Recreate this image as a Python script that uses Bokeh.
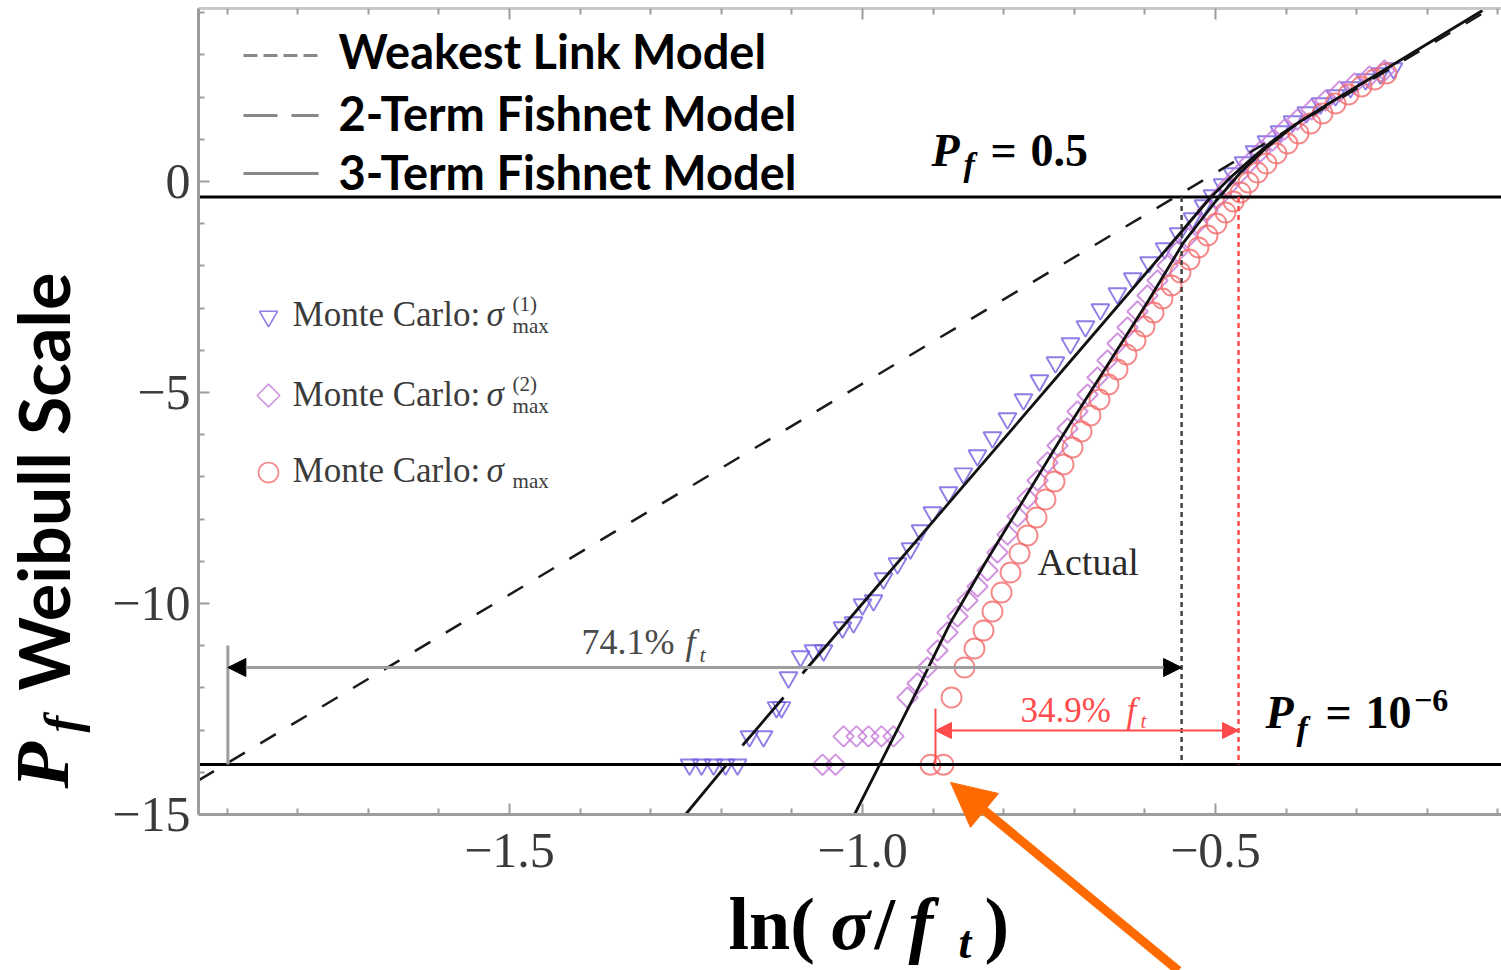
from math import pi, log

from bokeh.plotting import figure
from bokeh.models import (Range1d, LinearAxis, FixedTicker, CustomJSTickFormatter,
                          Label, Arrow, NormalHead)
from bokeh.embed import file_html
from bokeh.resources import INLINE

NAN = float("nan")

# ---- axes -----------------------------------------------------------------
# plotting box of the chart (data units)
x_start, x_end = -1.9405, -0.0949
y_start, y_end = -15.0, 4.0995
# the canvas extends beyond the box to leave room for tick labels and titles
canvas_x = (-2.2210, -0.0949)
canvas_y = (-18.6967, 4.2891)
PX_PER_X = 706.0    # screen pixels per unit of ln(sigma/f_t)
PX_PER_Y = 42.2     # screen pixels per unit of the Weibull scale

x_major = [-1.5, -1.0, -0.5]
x_minor = [-1.9, -1.8, -1.7, -1.6, -1.4, -1.3, -1.2, -1.1, -0.9, -0.8,
           -0.7, -0.6, -0.4, -0.3, -0.2, -0.1]
y_major = [0, -5, -10, -15]
y_minor = [4, 3, 2, 1, -1, -2, -3, -4, -6, -7, -8, -9, -11, -12, -13, -14]

# failure-probability levels on the Weibull scale, ln(-ln(1-Pf))
pf_half = -0.3665     # Pf = 0.5
pf_micro = -13.8155   # Pf = 1e-6

# ---- model curves (x = ln(sigma/f_t), y = Weibull scale) -------------------
wl_x = [-1.9405, -0.12]
wl_y = [-14.19, 4.0]

fn2_x = [-1.2507, -1.1912, NAN, -1.1700, -1.1119, NAN, -1.0850, -0.6912, -0.5637,
         -0.5071, -0.4788, -0.4504, -0.4221, -0.3867, -0.3371, -0.1218]
fn2_y = [-15.0, -13.792, NAN, -13.365, -12.228, NAN, -11.659, -3.981, -1.493,
         -0.379, 0.095, 0.521, 0.924, 1.351, 1.872, 4.052]

fn3_x = [-1.0113, -0.9249, -0.8753, -0.8258, -0.7181, -0.5949, -0.5453, -0.5000,
         -0.4646, -0.4292, -0.3867]
fn3_y = [-15.0, -12.133, -10.450, -9.029, -6.066, -2.820, -1.446, -0.474,
         0.213, 0.782, 1.351]

# ---- Monte Carlo samples ----------------------------------------------------
mc1_x = [-1.2450, -1.2280, -1.2110, -1.1940, -1.1770, -1.1601, -1.1402, -1.1218,
         -1.1147, -1.1048, -1.0878, -1.0694, -1.0552, -1.0283, -1.0127, -1.0000,
         -0.9844, -0.9703, -0.9504, -0.9321, -0.9179, -0.9009, -0.8783, -0.8570,
         -0.8372, -0.8159, -0.7947, -0.7720, -0.7494, -0.7267, -0.7055, -0.6842,
         -0.6630, -0.6389, -0.6172, -0.5941, -0.5721, -0.5524, -0.5326, -0.5170,
         -0.5042, -0.4901, -0.4759, -0.4603, -0.4448, -0.4278, -0.4094, -0.3909,
         -0.3711, -0.3513, -0.3300, -0.3088, -0.2875, -0.2663, -0.2479]
mc1_y = [-13.82, -13.82, -13.82, -13.82, -13.82, -13.15, -13.15, -12.46,
         -12.46, -11.754, -11.256, -11.114, -11.114, -10.569, -10.450, -10.024,
         -9.929, -9.408, -9.052, -8.697, -8.270, -7.844, -7.370, -6.920,
         -6.493, -6.066, -5.616, -5.166, -4.716, -4.289, -3.839, -3.436,
         -3.033, -2.654, -2.299, -1.919, -1.588, -1.232, -0.877, -0.569,
         -0.332, -0.071, 0.190, 0.450, 0.711, 0.948, 1.185, 1.422,
         1.635, 1.848, 2.038, 2.228, 2.417, 2.559, 2.678]

mc2_x = [-1.0567, -1.0382, -1.0269, -1.0085, -0.9915, -0.9731, -0.9561, -0.9363,
         -0.9221, -0.9079, -0.8938, -0.8796, -0.8654, -0.8513, -0.8371, -0.8229,
         -0.8088, -0.7946, -0.7804, -0.7663, -0.7521, -0.7380, -0.7238, -0.7096,
         -0.6955, -0.6813, -0.6671, -0.6530, -0.6388, -0.6246, -0.6105, -0.5963,
         -0.5822, -0.5680, -0.5538, -0.5397, -0.5255, -0.5113, -0.4972, -0.4830,
         -0.4674, -0.4518, -0.4363, -0.4193, -0.4023, -0.3839, -0.3640, -0.3442,
         -0.3244, -0.3031, -0.2819, -0.2606]
mc2_y = [-13.82, -13.82, -13.15, -13.15, -13.15, -13.15, -13.15, -12.228,
         -11.896, -11.517, -11.114, -10.687, -10.308, -9.929, -9.597, -9.218,
         -8.792, -8.365, -7.938, -7.512, -7.085, -6.659, -6.256, -5.853,
         -5.450, -5.047, -4.645, -4.242, -3.839, -3.460, -3.081, -2.701,
         -2.346, -1.991, -1.659, -1.327, -0.995, -0.687, -0.403, -0.118,
         0.166, 0.450, 0.711, 0.972, 1.232, 1.469, 1.706, 1.919,
         2.133, 2.322, 2.488, 2.630]

mcmax_x = [-0.9037, -0.8853, -0.8739, -0.8555, -0.8414, -0.8286, -0.8159, -0.8031,
           -0.7904, -0.7776, -0.7663, -0.7535, -0.7408, -0.7280, -0.7153, -0.7025,
           -0.6898, -0.6771, -0.6643, -0.6516, -0.6388, -0.6261, -0.6133, -0.6006,
           -0.5878, -0.5751, -0.5623, -0.5496, -0.5368, -0.5241, -0.5113, -0.4986,
           -0.4858, -0.4745, -0.4646, -0.4533, -0.4405, -0.4278, -0.4136, -0.3980,
           -0.3824, -0.3654, -0.3484, -0.3300, -0.3116, -0.2932, -0.2748, -0.2578]
mcmax_y = [-13.82, -13.82, -12.228, -11.517, -11.067, -10.640, -10.190, -9.739,
           -9.266, -8.815, -8.389, -7.962, -7.536, -7.109, -6.706, -6.303,
           -5.924, -5.545, -5.166, -4.810, -4.455, -4.100, -3.768, -3.436,
           -3.104, -2.773, -2.464, -2.156, -1.848, -1.564, -1.280, -0.995,
           -0.735, -0.474, -0.261, -0.024, 0.213, 0.427, 0.664, 0.900,
           1.137, 1.374, 1.611, 1.848, 2.062, 2.251, 2.417, 2.559]

# strength at Pf = 0.5 (weakest link, Monte Carlo sigma_max) and the
# strength reductions down to Pf = 1e-6, in percent of f_t
wl_half_x = -0.548
mc_half_x = -0.4674
drop_wl_pct = 74.1
drop_mc_pct = 34.9
wl_micro_x = wl_half_x + log(1 - drop_wl_pct / 100)
mc_micro_x = mc_half_x + log(1 - drop_mc_pct / 100)

# ---- colours ----------------------------------------------------------------
C_MC1 = "#6f5ee0"
C_MC2 = "#c479d8"
C_MCMAX = "#f26c6c"
C_AXIS = "#9d9d9d"
C_RED = "#ff4b4b"
C_ORANGE = "#ff6a00"
SERIF = "Liberation Serif"

p = figure(width=1501, height=970,
           x_range=Range1d(*canvas_x), y_range=Range1d(*canvas_y),
           x_axis_location=None, y_axis_location=None,
           output_backend="svg", toolbar_location=None, min_border=0,
           background_fill_color="white", border_fill_color="white")
p.outline_line_color = None
p.grid.visible = False


def style_axis(ax):
    ax.axis_line_color = C_AXIS
    ax.axis_line_width = 3
    ax.major_tick_line_color = C_AXIS
    ax.major_tick_line_width = 2
    ax.minor_tick_line_color = C_AXIS
    ax.minor_tick_line_width = 2
    ax.major_tick_in = 11
    ax.major_tick_out = 0
    ax.minor_tick_in = 6
    ax.minor_tick_out = 0
    ax.major_label_text_font = SERIF
    ax.major_label_text_font_size = "50px"
    ax.major_label_text_color = "#3a3a3a"


xax = LinearAxis(ticker=FixedTicker(ticks=x_major, minor_ticks=x_minor),
                 formatter=CustomJSTickFormatter(
                     code="return tick.toFixed(1).replace('-', '\u2212');"),
                 fixed_location=y_start, bounds=(x_start, x_end))
style_axis(xax)
xax.major_label_standoff = 20
p.add_layout(xax, "below")

yax = LinearAxis(ticker=FixedTicker(ticks=y_major, minor_ticks=y_minor),
                 formatter=CustomJSTickFormatter(
                     code="return tick.toFixed(0).replace('-', '\u2212');"),
                 fixed_location=x_start, bounds=(y_start, y_end))
style_axis(yax)
yax.major_label_standoff = 8
p.add_layout(yax, "left")

tax = LinearAxis(ticker=FixedTicker(ticks=x_major, minor_ticks=x_minor),
                 formatter=CustomJSTickFormatter(code="return '';"),
                 fixed_location=y_end, bounds=(x_start, x_end))
style_axis(tax)
tax.axis_line_color = "#c8c8c8"
tax.major_label_text_font_size = "0px"
p.add_layout(tax, "above")

# ---- Monte Carlo markers ----------------------------------------------------
p.scatter(mc1_x, mc1_y, marker="inverted_triangle", size=18, fill_color=None,
          line_color=C_MC1, line_alpha=0.8, line_width=1.9)
p.scatter(mc2_x, mc2_y, marker="square", angle=pi / 4, size=14.5, fill_color=None,
          line_color=C_MC2, line_alpha=0.8, line_width=1.9)
p.scatter(mcmax_x, mcmax_y, marker="circle", size=20, fill_color=None,
          line_color=C_MCMAX, line_alpha=0.8, line_width=1.9)

# ---- reference levels -------------------------------------------------------
p.line([x_start, x_end], [pf_half, pf_half], line_color="black", line_width=3)
p.line([x_start, x_end], [pf_micro, pf_micro], line_color="black", line_width=3)

p.line([wl_half_x, wl_half_x], [pf_half, pf_micro], line_color="#444444",
       line_width=2.5, line_dash="5 4")
p.line([mc_half_x, mc_half_x], [pf_half, pf_micro], line_color=C_RED,
       line_width=2.5, line_dash="5 4")

# ---- model curves -----------------------------------------------------------
p.line(wl_x, wl_y, line_color="#1a1a1a", line_width=2.5, line_dash="18 18")
p.line(fn2_x, fn2_y, line_color="#111111", line_width=2.8)
p.line(fn3_x, fn3_y, line_color="#111111", line_width=2.8)

# ---- strength-reduction arrows ---------------------------------------------
y_arrow_wl = -11.517
y_arrow_mc = -13.01
p.line([wl_micro_x, wl_micro_x], [-10.995, pf_micro], line_color=C_AXIS, line_width=3)
p.add_layout(Arrow(start=NormalHead(size=18, fill_color="black", line_color="black"),
                   end=NormalHead(size=18, fill_color="black", line_color="black"),
                   x_start=wl_micro_x, y_start=y_arrow_wl,
                   x_end=wl_half_x, y_end=y_arrow_wl,
                   line_color=C_AXIS, line_width=3))
p.line([mc_micro_x, mc_micro_x], [-12.49, pf_micro], line_color=C_RED, line_width=2)
p.add_layout(Arrow(start=NormalHead(size=16, fill_color=C_RED, line_color=C_RED),
                   end=NormalHead(size=16, fill_color=C_RED, line_color=C_RED),
                   x_start=mc_micro_x, y_start=y_arrow_mc,
                   x_end=mc_half_x, y_end=y_arrow_mc,
                   line_color=C_RED, line_width=2))

# orange pointer at the lowest sigma_max sample
p.add_layout(Arrow(end=NormalHead(size=44, fill_color=C_ORANGE, line_color=C_ORANGE),
                   x_start=-0.5524, y_start=-18.70, x_end=-0.8753, y_end=-14.24,
                   line_color=C_ORANGE, line_width=9))

# ---- legend (models) --------------------------------------------------------
leg_x = [-1.8768, -1.7705]
p.line(leg_x, [2.986, 2.986], line_color="#888888", line_width=3, line_dash="14 6")
p.line(leg_x, [1.564, 1.564], line_color="#888888", line_width=3, line_dash="34 14")
p.line(leg_x, [0.190, 0.190], line_color="#888888", line_width=3)

# ---- legend (Monte Carlo) ---------------------------------------------------
p.scatter([-1.8414], [-3.199], marker="inverted_triangle", size=18, fill_color=None,
          line_color=C_MC1, line_alpha=0.8, line_width=1.6)
p.scatter([-1.8414], [-5.071], marker="square", angle=pi / 4, size=16, fill_color=None,
          line_color=C_MC2, line_alpha=0.8, line_width=1.6)
p.scatter([-1.8414], [-6.896], marker="circle", size=20, fill_color=None,
          line_color=C_MCMAX, line_alpha=0.8, line_width=1.6)


def add_text(x, y, text, size, font=SERIF, style="normal", color="black", angle=0):
    # lift the text box so that (x, y) sits on the alphabetic baseline
    lift = 4 + 0.25 * size
    if angle:
        x -= lift / PX_PER_X
    else:
        y += lift / PX_PER_Y
    p.add_layout(Label(x=x, y=y, text=text, text_font=font,
                       text_font_size=f"{size}px", text_font_style=style,
                       text_color=color, angle=angle,
                       text_align="left", text_baseline="alphabetic"))


for yb, txt in [(2.725, "Weakest Link Model"), (1.256, "2-Term Fishnet Model"),
                (-0.142, "3-Term Fishnet Model")]:
    add_text(-1.7422, yb, txt, 47, font="Lato", style="bold")

MC_GRAY = "#3c3c3c"
for yb, sup_y, sub_y, sup in [(-3.460, -3.128, -3.649, "(1)"),
                              (-5.356, -5.024, -5.545, "(2)"),
                              (-7.157, None, -7.322, None)]:
    add_text(-1.8073, yb, "Monte Carlo:", 35, color=MC_GRAY)
    add_text(-1.5325, yb, "\u03c3", 35, style="italic", color=MC_GRAY)
    if sup:
        add_text(-1.4957, sup_y, sup, 21, color=MC_GRAY)
    add_text(-1.4957, sub_y, "max", 21, color=MC_GRAY)

# annotations in the plot
add_text(-0.9023, 0.379, "P", 46, style="bold italic")
add_text(-0.8569, 0.095, "f", 34, style="bold italic")
add_text(-0.8187, 0.379, "=", 46, style="bold")
add_text(-0.7620, 0.379, "0.5", 46, style="bold")

add_text(-0.4292, -12.962, "P", 46, style="bold italic")
add_text(-0.3853, -13.247, "f", 34, style="bold italic")
add_text(-0.3442, -12.962, "=", 46, style="bold")
add_text(-0.2876, -12.962, "10", 46, style="bold")
add_text(-0.2188, -12.583, "\u22126", 32, style="bold")

add_text(-0.7521, -9.337, "Actual", 38, color="#2a2a2a")

add_text(-1.398, -11.232, f"{drop_wl_pct}%", 36, color="#4a4a4a")
add_text(-1.2507, -11.232, "f", 36, style="italic", color="#4a4a4a")
add_text(-1.2309, -11.422, "t", 22, style="italic", color="#4a4a4a")

add_text(-0.7762, -12.844, f"{drop_mc_pct}%", 35, color=C_RED)
add_text(-0.6261, -12.844, "f", 35, style="italic", color=C_RED)
add_text(-0.6062, -13.01, "t", 21, style="italic", color=C_RED)

# axis titles
add_text(-1.1898, -18.128, "ln(", 74, style="bold")
add_text(-1.0453, -18.128, "\u03c3", 74, style="bold italic")
add_text(-0.9830, -18.128, "/", 74, style="bold")
add_text(-0.9349, -18.128, "f", 74, style="bold italic")
add_text(-0.8640, -18.389, "t", 46, style="bold italic")
add_text(-0.8272, -18.128, ")", 74, style="bold")

add_text(-2.1302, -14.384, "P", 76, style="bold italic", angle=pi / 2)
add_text(-2.1104, -13.057, "f", 50, style="bold italic", angle=pi / 2)
add_text(-2.1302, -12.062, "Weibull Scale", 70, font="Lato", style="bold", angle=pi / 2)

open("out.html", "w").write(file_html(p, INLINE))
